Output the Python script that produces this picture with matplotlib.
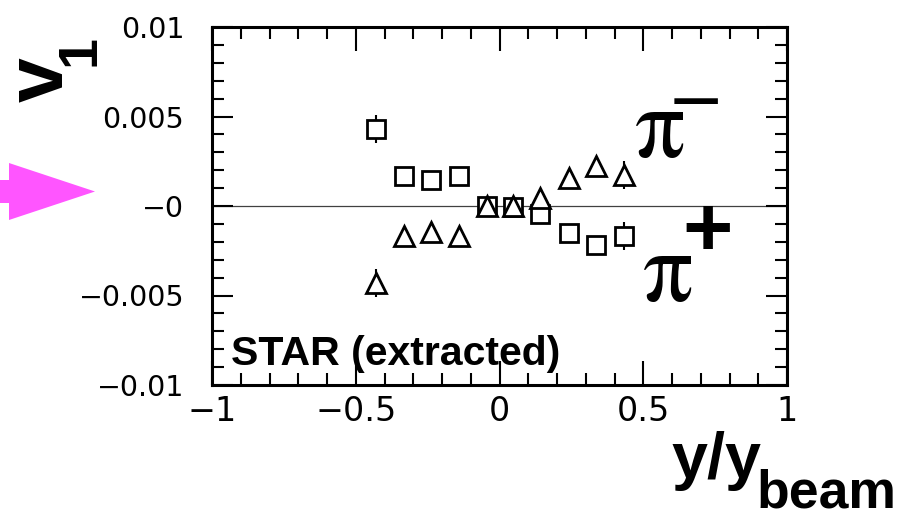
import matplotlib
matplotlib.use("Agg")
import matplotlib.pyplot as plt
from matplotlib.patches import FancyArrow
from matplotlib.ticker import MultipleLocator

# directed flow v1 vs normalised rapidity
y_rel = [-0.43, -0.333, -0.238, -0.142, -0.045, 0.048, 0.142, 0.241, 0.336, 0.432]
v1_pi_plus = [0.00428, 0.00168, 0.00145, 0.00168, 0.0, -0.00007, -0.00046, -0.00153, -0.00218, -0.00169]
v1_pi_minus = [-0.00432, -0.00169, -0.00146, -0.00169, 0.0, 0.0, 0.00046, 0.00155, 0.00222, 0.00171]
v1_err = [0.00078, 0.0003, 0.0003, 0.0003, 0.0003, 0.0003, 0.0003, 0.0003, 0.0003, 0.00078]

x_ticks = [-1, -0.5, 0, 0.5, 1]
x_tick_labels = ["\u22121", "\u22120.5", "0", "0.5", "1"]
y_ticks = [-0.01, -0.005, 0, 0.005, 0.01]
y_tick_labels = ["\u22120.01", "\u22120.005", "\u22120", "0.005", "0.01"]

W, H = 910, 520


def fx(px):
    return px / W


def fy(py):
    return 1 - py / H


fig = plt.figure(figsize=(W / 100, H / 100), dpi=100)
ax = fig.add_axes([fx(212), fy(385), fx(787) - fx(212), fy(27) - fy(385)])

ax.axhline(0, color="#404040", lw=0.9, zorder=1)

common = dict(yerr=v1_err, ls="none", ecolor="black", elinewidth=1.5, capsize=0,
              mfc="white", mec="black", mew=2.0, zorder=3)
ax.errorbar(y_rel, v1_pi_plus, marker="s", ms=13.3, **common)
ax.errorbar(y_rel, v1_pi_minus, marker="^", ms=14.5, **common)

ax.set_xlim(-1, 1)
ax.set_ylim(-0.01, 0.01)
ax.set_xticks(x_ticks, x_tick_labels)
ax.set_yticks(y_ticks, y_tick_labels)
ax.xaxis.set_minor_locator(MultipleLocator(0.1))
ax.yaxis.set_minor_locator(MultipleLocator(0.001))

for side in ax.spines.values():
    side.set_linewidth(2.2)
ax.tick_params(which="both", direction="in", top=True, right=True, width=1.5)
ax.tick_params(axis="x", which="major", length=17, labelsize=24, pad=7)
ax.tick_params(axis="x", which="minor", length=8.6)
ax.tick_params(axis="y", which="major", length=15, labelsize=20.5, pad=20)
ax.tick_params(axis="y", which="minor", length=8.6)

bold = dict(family="Liberation Sans", weight="bold", color="black")
anchor = dict(ha="left", va="baseline", rotation_mode="anchor")

# axis titles
fig.text(fx(63), fy(102), "v", rotation=90, fontsize=58, **bold, **anchor)
fig.text(fx(95), fy(66), "1", rotation=90, fontsize=40, **bold, **anchor)
fig.text(fx(671), fy(478), "y/y", fontsize=46.5, **bold, **anchor)
fig.text(fx(756), fy(508), "beam", fontsize=38.5, **bold, **anchor)

fig.text(fx(231), fy(365), "STAR (extracted)", fontsize=29.5, **bold, **anchor)

# species labels
fig.text(fx(634), fy(157), "\u03c0", fontsize=72, family="STIXGeneral", **anchor)
fig.text(fx(696), fy(104), "\u2212", fontsize=50, family="DejaVu Sans", ha="center", va="center")
fig.text(fx(642), fy(301), "\u03c0", fontsize=72, family="STIXGeneral", **anchor)
fig.text(fx(708), fy(234), "+", fontsize=62, ha="center", va="center", **bold)

fig.patches.append(FancyArrow(fx(-2), fy(191.5), fx(97), 0, width=23 / H, head_width=57 / H,
                              head_length=fx(86), length_includes_head=True,
                              color="#ff55ff", lw=0, transform=fig.transFigure, figure=fig))

fig.savefig("out.png", dpi=100)
